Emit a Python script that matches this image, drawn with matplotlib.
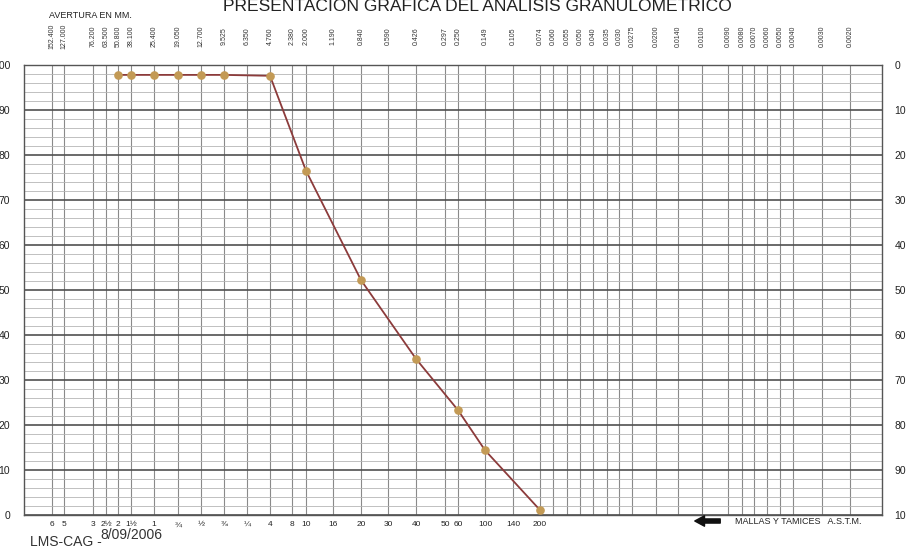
import numpy as np
import matplotlib
matplotlib.use("Agg")
import matplotlib.pyplot as plt
from matplotlib.transforms import blended_transform_factory

plt.rcParams['font.family'] = ['Liberation Sans', 'DejaVu Sans']

# aberturas impresas arriba del formato (mm)
abert_mm = [152.4, 127.0, 76.2, 63.5, 50.8, 38.1, 25.4, 19.05, 12.7, 9.525,
            6.35, 4.76, 2.38, 2.0, 1.19, 0.84, 0.59, 0.426, 0.297, 0.25,
            0.149, 0.105, 0.074, 0.060, 0.055, 0.050, 0.040, 0.035, 0.030,
            0.0275, 0.020, 0.014, 0.010, 0.009, 0.008, 0.007, 0.006, 0.005,
            0.004, 0.003, 0.002]
abert_txt = ["152.400", "127.000", "76.200", "63.500", "50.800", "38.100",
             "25.400", "19.050", "12.700", "9.525", "6.350", "4.760", "2.380",
             "2.000", "1.190", "0.840", "0.590", "0.426", "0.297", "0.250",
             "0.149", "0.105", "0.074", "0.060", "0.055", "0.050", "0.040",
             "0.035", "0.030", "0.0275", "0.0200", "0.0140", "0.0100",
             "0.0090", "0.0080", "0.0070", "0.0060", "0.0050", "0.0040",
             "0.0030", "0.0020"]

# mallas ASTM impresas abajo
mallas_txt = ["6", "5", "3", "2½", "2", "1½", "1", "¾", "½", "⅜", "¼", "4",
              "8", "10", "16", "20", "30", "40", "50", "60", "100", "140", "200"]
mallas_mm = [152.4, 127.0, 76.2, 63.5, 50.8, 38.1, 25.4, 19.05, 12.7, 9.525,
             6.35, 4.76, 2.38, 2.0, 1.19, 0.84, 0.59, 0.426, 0.297, 0.25,
             0.149, 0.105, 0.074]

# resultados del ensayo
tamiz_mm = [50.8, 38.1, 25.4, 19.05, 12.7, 9.525, 4.76, 2.0, 0.84, 0.426,
            0.25, 0.149, 0.074]
pasa = [97.8, 97.8, 97.8, 97.8, 97.8, 97.8, 97.6, 76.5, 52.2, 34.7, 23.3,
        14.4, 1.1]

# columnas del formato impreso (no es log puro), en pixeles
col_px = [52, 64, 93, 106, 118, 131, 154, 178, 201, 224, 247, 270, 292, 306,
          333, 361, 388, 416, 445, 458, 485, 513, 540, 553, 567, 580, 593,
          607, 619, 632, 656, 678, 702, 728, 742, 754, 767, 780, 793, 822, 850]
x_izq, x_der = 300.0, 0.0015   # extremos del marco

# escala creciente: log(d) -> -pixel
ref_lg = np.log10(np.array([x_der] + abert_mm[::-1] + [x_izq]))
ref_neg = -np.array([882] + col_px[::-1] + [24], dtype=float)


def fwd(d):
    d = np.clip(np.asarray(d, dtype=float), 1e-9, None)
    return np.interp(np.log10(d), ref_lg, ref_neg)


def inv(p):
    return 10 ** np.interp(np.asarray(p, dtype=float), ref_neg, ref_lg)


W, H = 906, 549
fig = plt.figure(figsize=(W / 100, H / 100), dpi=100)
fig.patch.set_facecolor('white')
ax = fig.add_axes([24 / W, (H - 515) / H, (882 - 24) / W, 450 / H])

ax.set_xscale('function', functions=(fwd, inv))
ax.set_xlim(x_izq, x_der)
ax.set_ylim(0, 100)

ax.set_xticks(abert_mm)
ax.set_xticklabels([])
ax.set_xticks([], minor=True)
ax.set_yticks(range(0, 101, 10))
ax.set_yticks(range(0, 101, 2), minor=True)
ax.grid(axis='x', which='major', color='#8a8a8a', lw=0.8)
ax.grid(axis='y', which='major', color='#505050', lw=1.2)
ax.grid(axis='y', which='minor', color='#b5b5b5', lw=0.6)
ax.tick_params(which='both', length=0, labelsize=7.5, pad=10, colors='#222222')
for s in ax.spines.values():
    s.set_color('#555555')
    s.set_linewidth(1.0)

ax2 = ax.twinx()
ax2.set_ylim(100, 0)
ax2.set_yticks(range(0, 101, 10))
ax2.tick_params(length=0, labelsize=7.5, pad=9, colors='#222222')
for s in ax2.spines.values():
    s.set_visible(False)

ax.plot(tamiz_mm, pasa, color='#8c3b3b', lw=1.3, marker='o', ms=5.2,
        mfc='#c39a55', mec='#c39a55', zorder=5)

# rotulos de aberturas arriba
tr = blended_transform_factory(ax.transData, fig.transFigure)
for d, t in zip(abert_mm, abert_txt):
    ax.text(d, 1 - 36 / H, t, transform=tr, rotation=90, ha='center',
            va='center', fontsize=5, color='#333333')

# rotulos de mallas abajo
for d, t in zip(mallas_mm, mallas_txt):
    ax.text(d, 1 - 525 / H, t, transform=tr, ha='center', va='center',
            fontsize=6, color='#222222')

fig.text(477 / W, 1 - 6.5 / H, "PRESENTACION GRAFICA DEL ANALISIS GRANULOMETRICO",
         ha='center', va='center', fontsize=12.6, color='#222222')
fig.text(90 / W, 1 - 16 / H, "AVERTURA EN MM.", ha='center', va='center',
         fontsize=6.5, color='#222222')
fig.text(735 / W, 1 - 521 / H, "MALLAS Y TAMICES   A.S.T.M.", ha='left',
         va='center', fontsize=6.5, color='#222222')
ax.annotate("", xy=(692, H - 521), xytext=(723, H - 521),
            xycoords='figure pixels', textcoords='figure pixels',
            arrowprops=dict(arrowstyle='simple,head_length=0.7,head_width=0.75,tail_width=0.3',
                            color='#111111'))
fig.text(30 / W, (H - 546) / H, "LMS-CAG -", ha='left', va='baseline',
         fontsize=10, color='#333333')
fig.text(100 / W, (H - 539) / H, "8/09/2006", ha='left', va='baseline',
         fontsize=10, color='#333333')

fig.savefig("out.png", dpi=100)
